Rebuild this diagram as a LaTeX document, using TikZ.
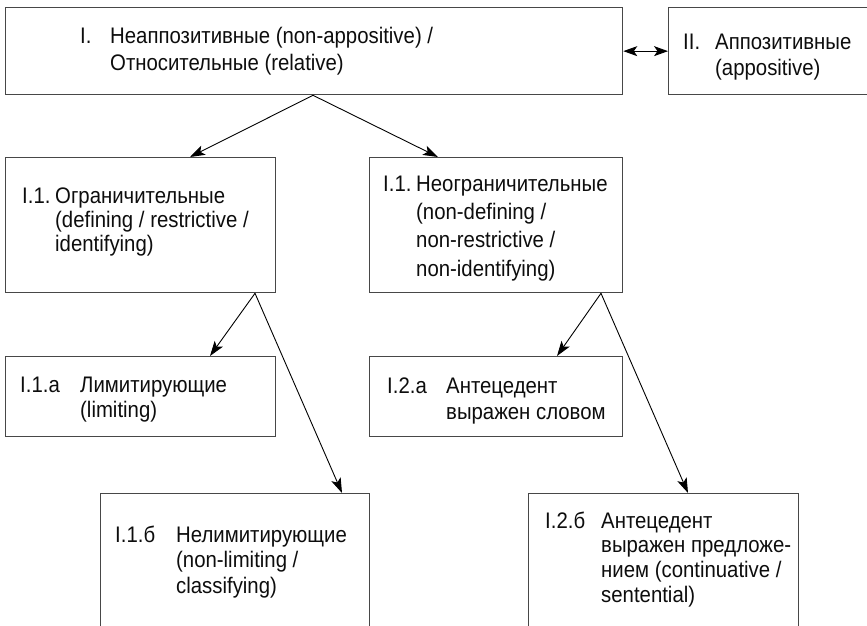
\documentclass[tikz,border=0pt]{standalone}
\usepackage{fontspec}
\setmainfont[FakeStretch=0.905]{Liberation Sans}
\usetikzlibrary{arrows.meta}
\newcommand{\fsz}[1]{\fontsize{22.5}{#1}\selectfont}
\tikzset{
  box/.style={draw=black!72, line width=1.3pt, rectangle, inner sep=0pt, anchor=north west},
  txt/.style={inner sep=0pt, anchor=base west, text=black!95},
  conn/.style={draw=black, line width=0.9pt, -{Stealth[length=15pt,width=10pt,inset=3.5pt]}},
  dconn/.style={draw=black, line width=0.9pt, {Stealth[length=14pt,width=10pt,inset=3.5pt]}-{Stealth[length=14pt,width=10pt,inset=3.5pt]}}
}
\begin{document}
\begin{tikzpicture}[x=1pt,y=-1pt]
\useasboundingbox (0,0) rectangle (867,626);
\clip (0,0) rectangle (867,626);
% boxes
\node[box, minimum width=617pt, minimum height=87pt] (r) at (5,7) {};
\node[box, minimum width=220pt, minimum height=87pt] (app) at (668,7) {};
\node[box, minimum width=270pt, minimum height=135pt] (d1) at (5,157) {};
\node[box, minimum width=253pt, minimum height=135pt] (n1) at (369,157) {};
\node[box, minimum width=270pt, minimum height=80pt] (a1) at (5,356) {};
\node[box, minimum width=253pt, minimum height=80pt] (a2) at (369,356) {};
\node[box, minimum width=269pt, minimum height=160pt] (b1) at (100,493) {};
\node[box, minimum width=270pt, minimum height=160pt] (b2) at (528,493) {};
% texts
\node[txt] (tr) at (80,44) {\fsz{27}\begin{tabular}[t]{@{}l@{}l@{}}\makebox[30pt][l]{I.} & Неаппозитивные (non-appositive) /\\ & Относительные (relative)\end{tabular}};
\node[txt] (tapp) at (683,49) {\fsz{26}\begin{tabular}[t]{@{}l@{}l@{}}\makebox[32pt][l]{II.} & Аппозитивные\\ & (appositive)\end{tabular}};
\node[txt] (td1) at (22,203) {\fsz{24}\begin{tabular}[t]{@{}l@{}l@{}}\makebox[33pt][l]{I.1.} & Ограничительные\\ & (defining / restrictive /\\ & identifying)\end{tabular}};
\node[txt] (tn1) at (383,191) {\fsz{28.4}\begin{tabular}[t]{@{}l@{}l@{}}\makebox[33pt][l]{I.1.} & Неограничительные\\ & (non-defining /\\ & non-restrictive /\\ & non-identifying)\end{tabular}};
\node[txt] (ta1) at (20,392) {\fsz{25}\begin{tabular}[t]{@{}l@{}l@{}}\makebox[60pt][l]{I.1.а} & Лимитирующие\\ & (limiting)\end{tabular}};
\node[txt] (ta2) at (387,393) {\fsz{26}\begin{tabular}[t]{@{}l@{}l@{}}\makebox[59pt][l]{I.2.а} & Антецедент\\ & выражен словом\end{tabular}};
\node[txt] (tb1) at (115,542) {\fsz{25.5}\begin{tabular}[t]{@{}l@{}l@{}}\makebox[61pt][l]{I.1.б} & Нелимитирующие\\ & (non-limiting /\\ & classifying)\end{tabular}};
\node[txt] (tb2) at (545,528) {\fsz{24.7}\begin{tabular}[t]{@{}l@{}l@{}}\makebox[56pt][l]{I.2.б} & Антецедент\\ & выражен предложе-\\ & нием (continuative /\\ & sentential)\end{tabular}};
% connectors
\draw[dconn] (r.east) -- (app.west);
\draw[conn] ([xshift=308pt]r.south west) -- ([xshift=185pt]d1.north west);
\draw[conn] ([xshift=308pt]r.south west) -- ([xshift=69pt]n1.north west);
\draw[conn] ([xshift=250pt]d1.south west) -- ([xshift=205pt]a1.north west);
\draw[conn] ([xshift=250pt]d1.south west) -- ([xshift=242pt]b1.north west);
\draw[conn] ([xshift=232pt]n1.south west) -- ([xshift=188pt]a2.north west);
\draw[conn] ([xshift=232pt]n1.south west) -- ([xshift=160pt]b2.north west);
\end{tikzpicture}
\end{document}
